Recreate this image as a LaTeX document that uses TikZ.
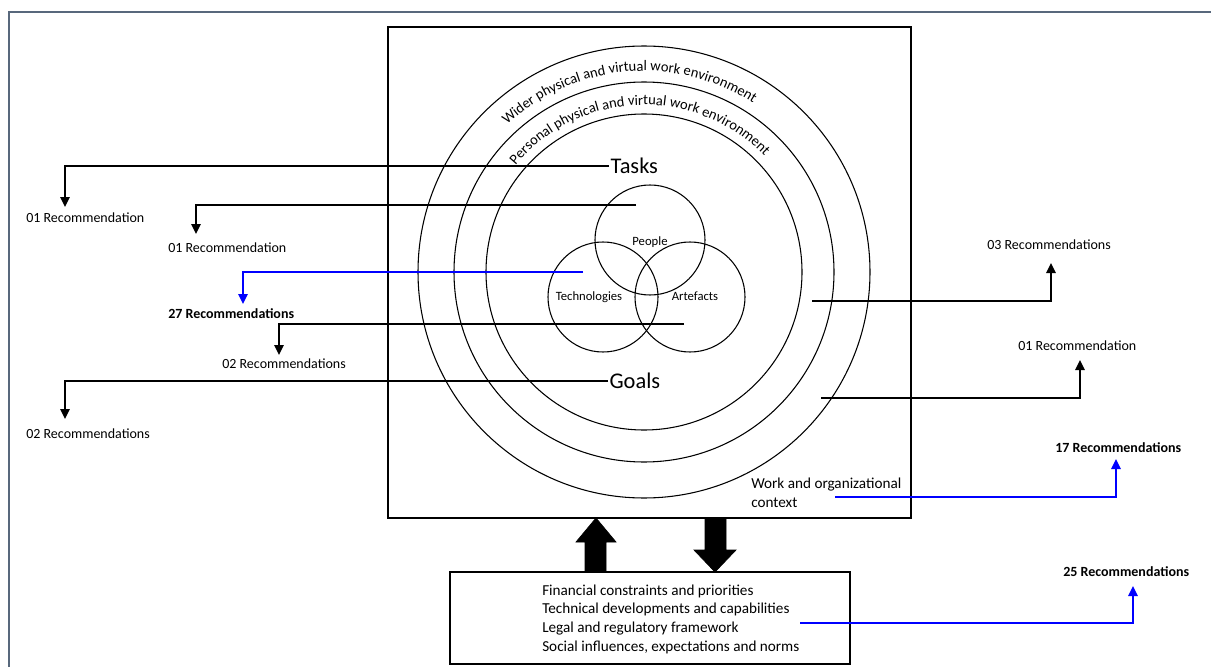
\documentclass[tikz,border=0pt]{standalone}
\usepackage{fontspec}
\setmainfont{Carlito}
\usetikzlibrary{arrows.meta,calc,decorations.text}
\definecolor{framecol}{RGB}{88,104,124}
\definecolor{linkblue}{RGB}{0,0,255}
\newcommand\recfont{\fontsize{10.5}{12}\selectfont}
\newcommand\arcfont{\fontsize{10.9}{12}\selectfont}
\newcommand\bigfont{\fontsize{16.8}{19}\selectfont}
\newcommand\vennfont{\fontsize{9.5}{11}\selectfont}
\newcommand\boxfont{\fontsize{11.4}{14}\selectfont}
\begin{document}
\begin{tikzpicture}[x=0.75pt,y=-0.75pt,
  link/.style={line width=1.3pt,-{Triangle[length=7.5pt,width=7pt]}},
  bluelink/.style={link,color=linkblue},
  rec/.style={anchor=west,inner sep=0pt,font=\recfont},
  boldrec/.style={rec,font=\recfont\bfseries},
  ring/.style={line width=0.8pt},
  boxline/.style={line width=0.9pt},
  bigarrow/.style={fill=black,draw=black,line width=0.5pt}]
\useasboundingbox (0,0) rectangle (1211,667);

% page frame
\draw[framecol,line width=1.6pt] (9,667) -- (9,12) -- (1211,12);

% work and organizational context box
\draw[boxline] (388,27) rectangle (911,518);
\node[anchor=west,align=left,inner sep=0pt,font=\boxfont] (ctx) at (751,493)
  {Work and organizational\\context};

% environment rings
\coordinate (C) at (644,272);
\draw[ring] (C) circle[radius=226];
\draw[ring] (C) circle[radius=190];
\draw[ring] (C) circle[radius=158];
\path[decorate,decoration={text along path,text align=center,
  text={|\arcfont|Wider physical and virtual work environment}}]
  ($(C)+(205:201)$) arc[start angle=205,end angle=325,radius=201];
\path[decorate,decoration={text along path,text align=center,
  text={|\arcfont|Personal physical and virtual work environment}}]
  ($(C)+(203:167)$) arc[start angle=203,end angle=333,radius=167];

% tasks and goals
\node[anchor=west,inner sep=1pt,font=\bigfont] (tasks) at (609,166) {Tasks};
\node[anchor=west,inner sep=1pt,font=\bigfont] (goals) at (608,381) {Goals};

% people, technologies, artefacts
\draw[ring] (650,240) circle[radius=55];
\draw[ring] (603,297) circle[radius=55];
\draw[ring] (690,297) circle[radius=55];
\node[font=\vennfont,inner sep=0pt] (people) at (650,242) {People};
\node[font=\vennfont,inner sep=0pt] (tech) at (589,297) {Technologies};
\node[font=\vennfont,inner sep=0pt] (arte) at (695,296) {Artefacts};

% external factors
\draw[boxline] (450,572) rectangle (850,664);
\node[anchor=west,align=left,inner sep=0pt,font=\boxfont] (forces) at (542,619)
  {Financial constraints and priorities\\
   Technical developments and capabilities\\
   Legal and regulatory framework\\
   Social influences, expectations and norms};

% two-way influence arrows
\draw[bigarrow] (585,572) -- (585,542) -- (576,542) -- (596,518) -- (616,542)
  -- (606,542) -- (606,572) -- cycle;
\draw[bigarrow] (705,518) -- (726,518) -- (726,550) -- (736,550) -- (715,572)
  -- (694,550) -- (705,550) -- cycle;

% recommendation labels
\node[rec] (r1) at (26,218) {01 Recommendation};
\node[rec] (r2) at (168,248) {01 Recommendation};
\node[boldrec] (r3) at (168,314) {27 Recommendations};
\node[rec] (r4) at (222,364) {02 Recommendations};
\node[rec] (r5) at (26,434) {02 Recommendations};
\node[rec] (r6) at (987,245) {03 Recommendations};
\node[rec] (r7) at (1018,346) {01 Recommendation};
\node[boldrec] (r8) at (1055,448) {17 Recommendations};
\node[boldrec] (r9) at (1063,572) {25 Recommendations};

% connector origins
\coordinate (c2) at (636,205);
\coordinate (c3) at (583,272);
\coordinate (c4) at (684,324);
\coordinate (c6) at (812,301);
\coordinate (c7) at (821,398);
\coordinate (c8) at (835,497);
\coordinate (c9) at (800,623);

% connectors
\draw[link] (tasks.west) -| ($(r1.west)+(39,-11)$);
\draw[link] (c2) -| ($(r2.west)+(28,-14)$);
\draw[bluelink] (c3) -| ($(r3.west)+(75,-10)$);
\draw[link] (c4) -| ($(r4.west)+(57,-9)$);
\draw[link] (goals.west) -| ($(r5.west)+(39,-15)$);
\draw[link] (c6) -| ($(r6.west)+(64,18)$);
\draw[link] (c7) -| ($(r7.west)+(62,14)$);
\draw[bluelink] (c8) -| ($(r8.west)+(61,11)$);
\draw[bluelink] (c9) -| ($(r9.west)+(70,14)$);
\end{tikzpicture}
\end{document}
